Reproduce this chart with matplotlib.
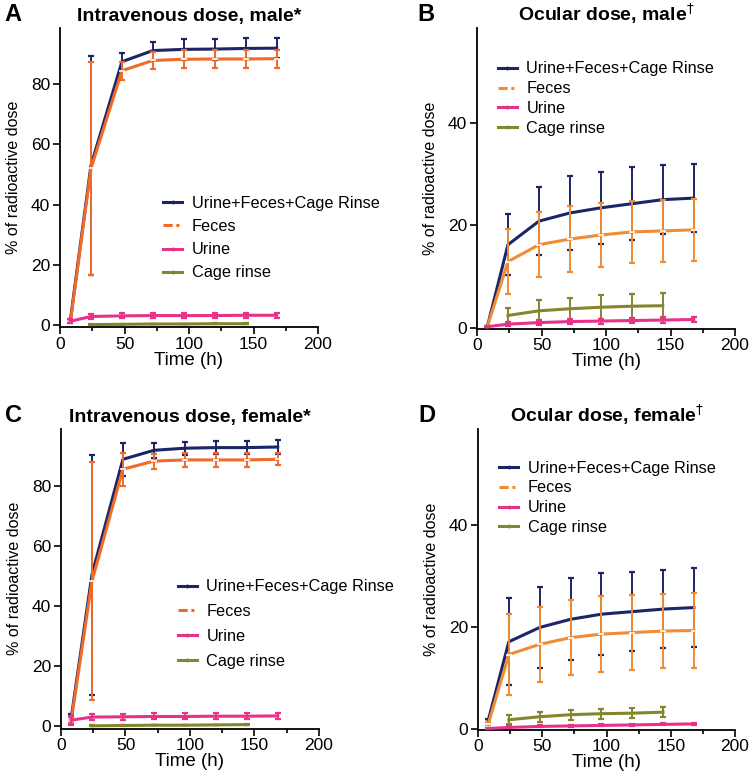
import numpy as np
import matplotlib
matplotlib.use("Agg")
import matplotlib.pyplot as plt
from matplotlib.lines import Line2D
from matplotlib.ticker import MultipleLocator

plt.rcParams['font.family'] = ['Liberation Sans', 'DejaVu Sans']
plt.rcParams['mathtext.fontset'] = 'dejavusans'

# time points (h)
t = [8, 24, 48, 72, 96, 120, 144, 168]
t_rinse = [24, 48, 72, 96, 120, 144]

# A: intravenous, male
iv_m_total = [1.5, 53.0, 87.5, 91.2, 91.6, 91.7, 91.9, 92.0]
iv_m_total_err = [0.5, 36.5, 2.8, 3.0, 3.4, 3.5, 3.4, 3.3]
iv_m_feces = [0.8, 52.0, 84.5, 87.9, 88.3, 88.4, 88.4, 88.5]
iv_m_feces_err = [0.3, 35.5, 3.0, 2.8, 3.0, 3.0, 3.0, 3.0]
iv_m_urine = [1.2, 2.8, 3.0, 3.1, 3.1, 3.1, 3.2, 3.2]
iv_m_urine_err = [0.6, 0.8, 0.8, 0.8, 0.8, 0.8, 0.8, 0.8]
iv_m_rinse = [0.1, 0.2, 0.3, 0.3, 0.4, 0.4]
iv_m_rinse_err = [0.1, 0.1, 0.1, 0.1, 0.1, 0.1]

# B: ocular, male
oc_m_total = [0.2, 16.2, 20.8, 22.4, 23.4, 24.2, 25.0, 25.3]
oc_m_total_err = [0.1, 6.0, 6.7, 7.2, 7.0, 7.1, 6.7, 6.7]
oc_m_feces = [0.2, 12.9, 16.2, 17.3, 18.1, 18.7, 18.9, 19.1]
oc_m_feces_err = [0.1, 6.3, 6.3, 6.4, 6.2, 6.1, 6.0, 6.0]
oc_m_urine = [0.2, 0.7, 1.0, 1.2, 1.3, 1.4, 1.5, 1.6]
oc_m_urine_err = [0.1, 0.4, 0.5, 0.5, 0.5, 0.5, 0.5, 0.5]
oc_m_rinse = [2.4, 3.3, 3.7, 4.0, 4.2, 4.3]
oc_m_rinse_err = [1.4, 2.1, 2.2, 2.3, 2.4, 2.4]

# C: intravenous, female
iv_f_total = [3.0, 50.5, 88.9, 91.9, 92.6, 92.8, 92.8, 93.0]
iv_f_total_err = [1.0, 40.0, 5.5, 2.5, 2.2, 2.2, 2.2, 2.2]
iv_f_feces = [2.0, 48.3, 85.6, 88.3, 88.7, 88.7, 88.7, 88.9]
iv_f_feces_err = [1.0, 39.7, 5.5, 2.5, 2.2, 2.2, 2.2, 2.0]
iv_f_urine = [2.0, 3.0, 3.1, 3.2, 3.2, 3.3, 3.3, 3.4]
iv_f_urine_err = [1.5, 1.0, 1.0, 1.0, 1.0, 1.0, 1.0, 1.0]
iv_f_rinse = [0.1, 0.2, 0.3, 0.3, 0.4, 0.5]
iv_f_rinse_err = [0.1, 0.1, 0.1, 0.1, 0.1, 0.1]

# D: ocular, female
oc_f_total = [1.7, 17.1, 19.9, 21.5, 22.5, 23.0, 23.5, 23.8]
oc_f_total_err = [0.3, 8.5, 8.0, 8.0, 8.0, 7.8, 7.7, 7.7]
oc_f_feces = [1.0, 14.6, 16.6, 17.9, 18.6, 18.9, 19.2, 19.3]
oc_f_feces_err = [0.3, 7.9, 7.4, 7.3, 7.4, 7.3, 7.2, 7.4]
oc_f_urine = [0.1, 0.3, 0.5, 0.6, 0.7, 0.8, 0.9, 1.0]
oc_f_urine_err = [0.1, 0.2, 0.2, 0.2, 0.2, 0.2, 0.2, 0.2]
oc_f_rinse = [1.8, 2.4, 2.8, 3.0, 3.1, 3.3]
oc_f_rinse_err = [0.9, 1.0, 1.0, 1.0, 1.0, 1.0]

NAVY = '#1c2568'
ORANGE_IV = '#f06a28'
ORANGE_OC = '#f08c34'
PINK = '#e8328a'
OLIVE = '#85852e'

labels = ['Urine+Feces+Cage Rinse', 'Feces', 'Urine', 'Cage rinse']

fig = plt.figure(figsize=(7.5, 7.82), dpi=100)
W, H = 750.0, 782.0


def make_ax(left, right, top, bottom):
    return fig.add_axes([left / W, 1 - bottom / H, (right - left) / W, (bottom - top) / H])


def draw(ax, total, total_err, feces, feces_err, urine, urine_err, rinse, rinse_err,
         orange, ylim, yticks, title, letter, letter_x, leg_loc, leg_space):
    kw = dict(capsize=2.2, capthick=1.6, elinewidth=1.4, lw=2.2)
    ax.errorbar(t, total, yerr=total_err, color=NAVY, zorder=2, **kw)
    ax.errorbar(t, feces, yerr=feces_err, color=orange, zorder=3, **kw)
    ax.plot(t, feces, ls='none', marker='_', ms=4, mew=1.2, color='white', zorder=3.5)
    ax.errorbar(t_rinse, rinse, yerr=rinse_err, color=OLIVE, zorder=4, **kw)
    ax.errorbar(t, urine, yerr=urine_err, color=PINK, zorder=5, **kw)

    ax.set_xlim(0, 200)
    ax.set_ylim(*ylim)
    ax.set_yticks(yticks)
    ax.xaxis.set_major_locator(MultipleLocator(50))
    ax.xaxis.set_minor_locator(MultipleLocator(25))
    for s in ['top', 'right']:
        ax.spines[s].set_visible(False)
    for s in ['left', 'bottom']:
        ax.spines[s].set_linewidth(1.3)
    ax.tick_params(which='major', length=5, width=1.2, labelsize=12.5, pad=2)
    ax.tick_params(which='minor', length=3, width=1.2)
    ax.set_xlabel('Time (h)', fontsize=13.5, labelpad=0)
    ax.set_ylabel('% of radioactive dose', fontsize=11.5, labelpad=7)
    ax.set_title(title, fontsize=14, fontweight='bold', pad=5)
    ax.text(letter_x, 1.045, letter, transform=ax.transAxes, fontsize=17,
            fontweight='bold', va='center', ha='left')

    handles = [
        Line2D([], [], color=NAVY, lw=2.2, marker='|', ms=3),
        Line2D([], [], color=orange, lw=2.2, ls=(0, (3, 1.2, 1, 1.2))),
        Line2D([], [], color=PINK, lw=2.2, marker='|', ms=3),
        Line2D([], [], color=OLIVE, lw=2.2, marker='|', ms=3),
    ]
    ax.legend(handles, labels, loc='upper left', bbox_to_anchor=leg_loc, frameon=False,
              fontsize=11.7, handlelength=1.15, handletextpad=0.6, labelspacing=leg_space,
              borderaxespad=0, borderpad=0)


axA = make_ax(60, 318, 28, 327)
draw(axA, iv_m_total, iv_m_total_err, iv_m_feces, iv_m_feces_err, iv_m_urine, iv_m_urine_err,
     iv_m_rinse, iv_m_rinse_err, ORANGE_IV, (-0.7, 98.7), [0, 20, 40, 60, 80],
     'Intravenous dose, male*', 'A', -0.215, (0.40, 0.438), 0.5)

axB = make_ax(477, 735, 28, 328.5)
draw(axB, oc_m_total, oc_m_total_err, oc_m_feces, oc_m_feces_err, oc_m_urine, oc_m_urine_err,
     oc_m_rinse, oc_m_rinse_err, ORANGE_OC, (-0.15, 58.5), [0, 20, 40],
     'Ocular dose, male$^{\\dagger}$', 'B', -0.23, (0.081, 0.889), 0.3)

axC = make_ax(61, 319, 429, 728.5)
draw(axC, iv_f_total, iv_f_total_err, iv_f_feces, iv_f_feces_err, iv_f_urine, iv_f_urine_err,
     iv_f_rinse, iv_f_rinse_err, ORANGE_IV, (-0.8, 99.0), [0, 20, 40, 60, 80],
     'Intravenous dose, female*', 'C', -0.217, (0.453, 0.498), 0.6)

axD = make_ax(478, 735, 429, 729.5)
draw(axD, oc_f_total, oc_f_total_err, oc_f_feces, oc_f_feces_err, oc_f_urine, oc_f_urine_err,
     oc_f_rinse, oc_f_rinse_err, ORANGE_OC, (-0.1, 58.8), [0, 20, 40],
     'Ocular dose, female$^{\\dagger}$', 'D', -0.233, (0.083, 0.895), 0.3)

fig.savefig('out.png', dpi=100)
